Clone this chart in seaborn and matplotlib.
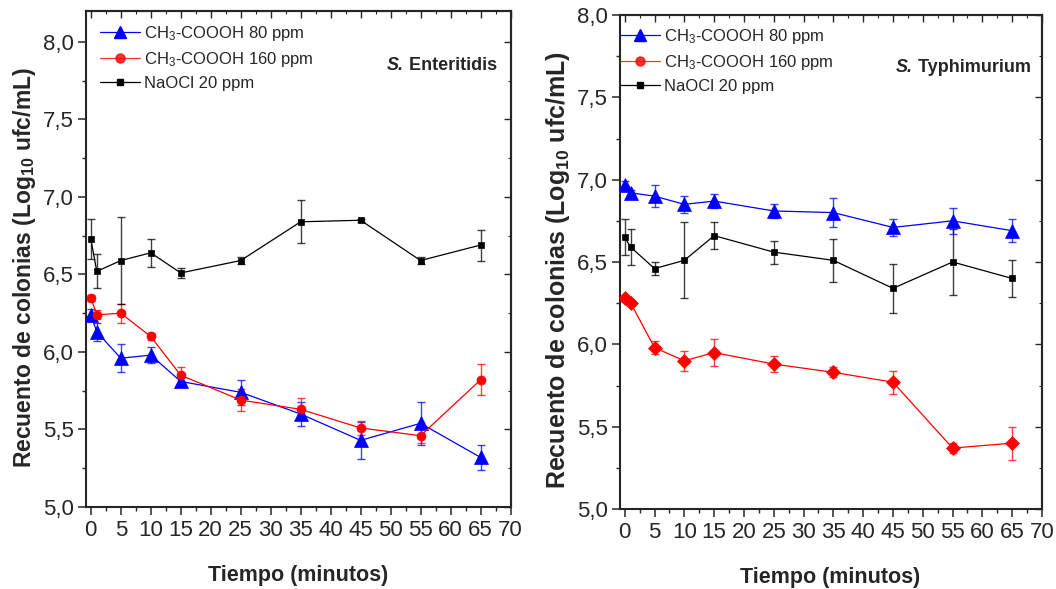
import numpy as np
import pandas as pd
import matplotlib
matplotlib.use("Agg")
import matplotlib.pyplot as plt
from matplotlib.lines import Line2D
from matplotlib.ticker import MultipleLocator, FuncFormatter, NullFormatter
from matplotlib import font_manager
import seaborn as sns

# ---- data -------------------------------------------------------------
times = [0, 1, 5, 10, 15, 25, 35, 45, 55, 65]
series_names = ["CH$_3$-COOOH 80 ppm", "CH$_3$-COOOH 160 ppm", "NaOCl 20 ppm"]

# S. Enteritidis
ent_80 = [6.24, 6.13, 5.96, 5.98, 5.81, 5.74, 5.60, 5.43, 5.54, 5.32]
ent_80_err = [0.04, 0.06, 0.09, 0.05, 0.03, 0.08, 0.08, 0.12, 0.14, 0.08]
ent_160 = [6.35, 6.24, 6.25, 6.10, 5.85, 5.69, 5.63, 5.51, 5.46, 5.82]
ent_160_err = [0.02, 0.03, 0.06, 0.02, 0.05, 0.07, 0.07, 0.045, 0.05, 0.10]
ent_naocl = [6.73, 6.52, 6.59, 6.64, 6.51, 6.59, 6.84, 6.85, 6.59, 6.69]
ent_naocl_err = [0.13, 0.11, 0.28, 0.09, 0.03, 0.02, 0.14, 0.01, 0.02, 0.10]

# S. Typhimurium
typ_80 = [6.97, 6.92, 6.90, 6.85, 6.87, 6.81, 6.80, 6.71, 6.75, 6.69]
typ_80_err = [0.02, 0.02, 0.065, 0.05, 0.045, 0.04, 0.09, 0.05, 0.08, 0.07]
typ_160 = [6.28, 6.25, 5.98, 5.90, 5.95, 5.88, 5.83, 5.77, 5.37, 5.40]
typ_160_err = [0.02, 0.02, 0.04, 0.06, 0.08, 0.05, 0.03, 0.07, 0.03, 0.10]
typ_naocl = [6.65, 6.59, 6.46, 6.51, 6.66, 6.56, 6.51, 6.34, 6.50, 6.40]
typ_naocl_err = [0.11, 0.11, 0.04, 0.23, 0.08, 0.07, 0.13, 0.15, 0.20, 0.11]

x_ticks = list(range(0, 75, 5))

# ---- style ------------------------------------------------------------
sns.set_style("ticks")
installed = {f.name for f in font_manager.fontManager.ttflist}
narrow = "Liberation Sans Narrow" if "Liberation Sans Narrow" in installed else "Liberation Sans"
plt.rcParams["font.family"] = ["Liberation Sans", "DejaVu Sans"]
plt.rcParams["mathtext.fontset"] = "custom"
plt.rcParams["mathtext.rm"] = "Liberation Sans"
plt.rcParams["mathtext.it"] = "Liberation Sans:italic"
plt.rcParams["mathtext.bf"] = "Liberation Sans:bold"

colors = ["#0000ff", "#ff0000", "#000000"]
fig = plt.figure(figsize=(10.56, 5.89), dpi=100)
fig.patch.set_facecolor("white")

comma = FuncFormatter(lambda v, p: f"{v:.1f}".replace(".", ","))


def panel(rect, vals, errs, markers, ylim, title, tick_fs, ylab_fs, ylab_xy, xlab_xy, leg_xy):
    ax = fig.add_axes(rect)
    frames = []
    for name, v in zip(series_names, vals):
        frames.append(pd.DataFrame({"t": times, "v": v, "s": name}))
    df = pd.concat(frames, ignore_index=True)
    msize = {"^": 9.5, "o": 6.5, "s": 5, "D": 7}
    for name, v, e, c, m in zip(series_names, vals, errs, colors, markers):
        sub = df[df["s"] == name]
        sns.lineplot(data=sub, x="t", y="v", ax=ax, color=c, lw=0.9,
                     marker=m, markersize=msize[m], markeredgecolor=c,
                     markeredgewidth=0.5, errorbar=None, legend=False, zorder=3)
        ax.errorbar(times, v, yerr=e, fmt="none", ecolor=c, elinewidth=1.0,
                    capsize=3, capthick=1.0, alpha=0.75, zorder=2)
    ax.set_xlim(-0.8, 70)
    ax.set_ylim(*ylim)
    ax.set_xticks(x_ticks)
    ax.xaxis.set_minor_locator(MultipleLocator(2.5))
    ax.yaxis.set_major_locator(MultipleLocator(0.5))
    ax.yaxis.set_minor_locator(MultipleLocator(0.25))
    ax.yaxis.set_major_formatter(comma)
    ax.set_xlabel("")
    ax.set_ylabel("")
    for sp in ax.spines.values():
        sp.set_visible(True)
        sp.set_linewidth(1.5)
    ax.tick_params(which="major", direction="out", length=6, width=1.1,
                   labelsize=tick_fs, pad=3)
    ax.tick_params(which="minor", direction="out", length=3, width=1.0)
    for lab in ax.get_xticklabels():
        lab.set_family(narrow)
    # mirrored inward ticks on top and right
    top = ax.secondary_xaxis("top")
    top.xaxis.set_major_locator(MultipleLocator(5))
    top.xaxis.set_minor_locator(MultipleLocator(2.5))
    top.xaxis.set_major_formatter(NullFormatter())
    top.tick_params(which="major", direction="in", length=5, width=1.0)
    top.tick_params(which="minor", direction="in", length=2.5, width=0.8)
    top.spines["top"].set_linewidth(1.5)
    right = ax.secondary_yaxis("right")
    right.yaxis.set_major_locator(MultipleLocator(0.5))
    right.yaxis.set_minor_locator(MultipleLocator(0.25))
    right.yaxis.set_major_formatter(NullFormatter())
    right.tick_params(which="major", direction="in", length=5, width=1.0)
    right.tick_params(which="minor", direction="in", length=2.5, width=0.8)
    right.spines["right"].set_linewidth(1.5)

    fig.text(ylab_xy[0] / 1056, 1 - ylab_xy[1] / 589,
             "Recuento de colonias (Log$_{\\mathbf{10}}$ ufc/mL)",
             rotation=90, ha="center", va="center", fontsize=ylab_fs,
             fontweight="bold")
    fig.text(xlab_xy[0] / 1056, 1 - xlab_xy[1] / 589, "Tiempo (minutos)",
             ha="center", va="center", fontsize=15.5, fontweight="bold",
             family=narrow)

    handles = [
        Line2D([], [], color=colors[0], lw=0.9, marker="^", markersize=9),
        Line2D([], [], color=colors[1], lw=0.9, alpha=0.8, marker="o", markersize=6.5),
        Line2D([], [], color=colors[2], lw=0.9, marker="s", markersize=5),
    ]
    ax.legend(handles, series_names, loc="upper left", frameon=False,
              bbox_to_anchor=(leg_xy[0] / 1056, 1 - leg_xy[1] / 589),
              bbox_transform=fig.transFigure, fontsize=12, handlelength=2.4,
              handletextpad=0.25, labelspacing=0.42, borderpad=0,
              borderaxespad=0)

    t1 = ax.text(title[1] / 1056, 1 - title[2] / 589, "S.", transform=fig.transFigure,
                 fontsize=13, fontweight="bold", fontstyle="italic",
                 ha="left", va="center")
    ax.annotate(" " + title[0], xy=(1, 0.5), xycoords=t1, ha="left", va="center",
                fontsize=13, fontweight="bold")
    return ax


panel([86 / 1056, 1 - 507 / 589, 424.5 / 1056, 496 / 589],
      [ent_80, ent_160, ent_naocl], [ent_80_err, ent_160_err, ent_naocl_err],
      ["^", "o", "s"], (5.0, 8.2), ("Enteritidis", 387, 66), 16, 16.5,
      (25, 268), (298, 575), (100, 24))
panel([620 / 1056, 1 - 509 / 589, 422 / 1056, 494 / 589],
      [typ_80, typ_160, typ_naocl], [typ_80_err, typ_160_err, typ_naocl_err],
      ["^", "D", "s"], (5.0, 8.0), ("Typhimurium", 896, 67), 16, 18,
      (558, 270), (830, 578), (620, 27))

fig.savefig("out.png", dpi=100, facecolor="white")
